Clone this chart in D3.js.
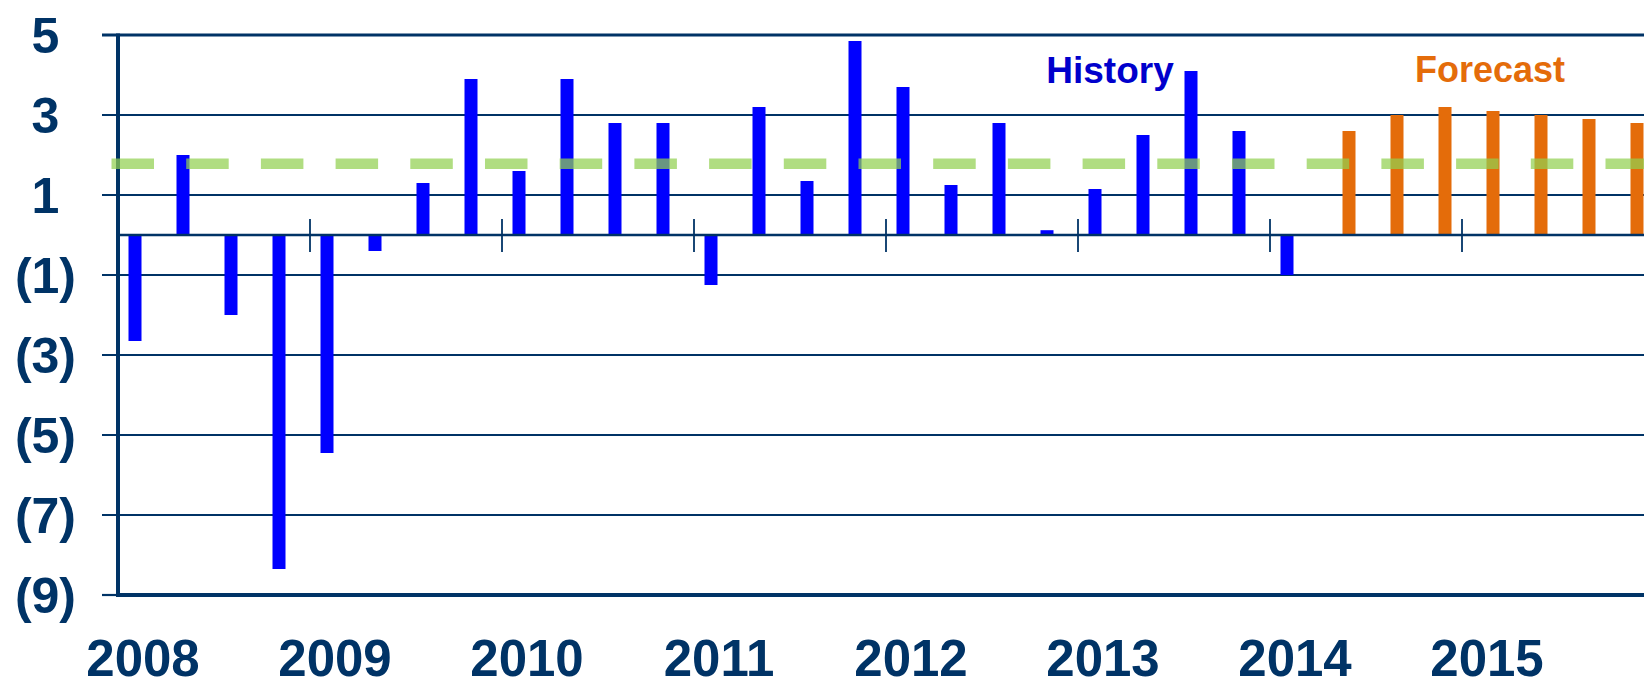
<!DOCTYPE html>
<html>
<head>
<meta charset="utf-8">
<script src="https://cdn.jsdelivr.net/npm/d3@7"></script>
<style>
  html, body { margin: 0; padding: 0; background: #fff; }
  svg { display: block; }
  text { font-family: "Liberation Sans", Arial, sans-serif; font-weight: bold; }
</style>
</head>
<body>
<svg id="chart" width="1644" height="687"></svg>
<script>
// ---- data ----
const quarters = [
  "2008Q1","2008Q2","2008Q3","2008Q4",
  "2009Q1","2009Q2","2009Q3","2009Q4",
  "2010Q1","2010Q2","2010Q3","2010Q4",
  "2011Q1","2011Q2","2011Q3","2011Q4",
  "2012Q1","2012Q2","2012Q3","2012Q4",
  "2013Q1","2013Q2","2013Q3","2013Q4",
  "2014Q1","2014Q2","2014Q3","2014Q4",
  "2015Q1","2015Q2","2015Q3","2015Q4"
];
const history = [
  -2.65, 2.0, -2.0, -8.35,
  -5.45, -0.4, 1.3, 3.9,
  1.6, 3.9, 2.8, 2.8,
  -1.25, 3.2, 1.35, 4.85,
  3.7, 1.25, 2.8, 0.12,
  1.15, 2.5, 4.1, 2.6,
  -1.0, null, null, null,
  null, null, null, null
];
const forecast = [
  null, null, null, null,
  null, null, null, null,
  null, null, null, null,
  null, null, null, null,
  null, null, null, null,
  null, null, null, null,
  null, 2.6, 3.0, 3.2,
  3.1, 3.0, 2.9, 2.8
];
const seriesNames = ["History", "Forecast"];
const trendValue = 1.78;
const yTicks = [5, 3, 1, -1, -3, -5, -7, -9];
const yearLabels = ["2008","2009","2010","2011","2012","2013","2014","2015"];

(function () {
// ---- layout ----
const W = 1644, H = 687;
const plotLeft = 118, plotTop = 35, plotBottom = 595;
const step = 48;
const navy = "#003366";
const blue = "#0000FF";
const orange = "#E46C0A";

const svg = d3.select("#chart");

const x = d3.scaleBand().domain(quarters)
  .range([plotLeft, plotLeft + step * quarters.length]).paddingInner(0).paddingOuter(0);
const xs = d3.scaleBand().domain(seriesNames)
  .range([0, x.bandwidth()]).paddingInner(1/14).paddingOuter(0.75);
const y = d3.scaleLinear().domain([-9, 5]).range([plotBottom, plotTop]);

// gridlines (plus outside tick marks)
svg.append("g").selectAll("line").data(yTicks.filter(v => v !== 5 && v !== -9)).join("line")
  .attr("x1", plotLeft - 16).attr("x2", W)
  .attr("y1", d => y(d)).attr("y2", d => y(d))
  .attr("stroke", navy).attr("stroke-width", 2.2);

// top and bottom borders
svg.append("line").attr("x1", plotLeft - 16).attr("x2", W)
  .attr("y1", y(5)).attr("y2", y(5)).attr("stroke", navy).attr("stroke-width", 3.2);
svg.append("line").attr("x1", plotLeft - 16).attr("x2", plotLeft)
  .attr("y1", y(-9)).attr("y2", y(-9)).attr("stroke", navy).attr("stroke-width", 2.2);
svg.append("line").attr("x1", plotLeft).attr("x2", W)
  .attr("y1", y(-9)).attr("y2", y(-9)).attr("stroke", navy).attr("stroke-width", 4);

// bars
const rows = quarters.map((q, i) => ({ q, History: history[i], Forecast: forecast[i] }));
const colors = { History: blue, Forecast: orange };
seriesNames.forEach(s => {
  svg.append("g").selectAll("rect")
    .data(rows.filter(r => r[s] !== null))
    .join("rect")
    .attr("x", r => x(r.q) + xs(s))
    .attr("width", xs.bandwidth())
    .attr("y", r => y(Math.max(0, r[s])))
    .attr("height", r => Math.abs(y(r[s]) - y(0)))
    .attr("fill", colors[s]);
});

// zero line (category axis)
svg.append("line").attr("x1", plotLeft).attr("x2", W)
  .attr("y1", y(0)).attr("y2", y(0)).attr("stroke", navy).attr("stroke-width", 2.5);

// year tick marks crossing zero line
const yearStarts = quarters.filter(q => q.endsWith("Q1")).slice(1);
svg.append("g").selectAll("line").data(yearStarts).join("line")
  .attr("x1", q => x(q)).attr("x2", q => x(q))
  .attr("y1", y(0) - 16).attr("y2", y(0) + 17)
  .attr("stroke", navy).attr("stroke-width", 1.8);

// left axis line
svg.append("line").attr("x1", plotLeft).attr("x2", plotLeft)
  .attr("y1", plotTop - 1.5).attr("y2", plotBottom + 2)
  .attr("stroke", navy).attr("stroke-width", 4);

// dashed reference line
svg.append("line")
  .attr("x1", 111.5).attr("x2", W)
  .attr("y1", y(trendValue)).attr("y2", y(trendValue))
  .attr("stroke", "#92D050").attr("stroke-opacity", 0.72)
  .attr("stroke-width", 10.5).attr("stroke-dasharray", "42.5,32.2");

// y labels
const yFont = 50;
svg.append("g").selectAll("text").data(yTicks).join("text")
  .attr("x", d => d < 0 ? 76 : 76 - 0.333 * yFont)
  .attr("y", d => y(d) + 0.358 * yFont)
  .attr("text-anchor", "end")
  .attr("font-size", yFont)
  .attr("fill", navy)
  .text(d => d < 0 ? `(${-d})` : d);

// x labels (years at Q1)
const xFont = 51;
const q1s = quarters.filter(q => q.endsWith("Q1"));
svg.append("g").selectAll("text").data(q1s).join("text")
  .attr("x", q => x(q) + x.bandwidth() / 2 + 1)
  .attr("y", H - 0.212 * xFont)
  .attr("text-anchor", "middle")
  .attr("font-size", xFont)
  .attr("fill", navy)
  .text((q, i) => yearLabels[i]);

// series annotations
svg.append("text").attr("x", 1110).attr("y", 82.5).attr("text-anchor", "middle")
  .attr("font-size", 37).attr("fill", "#0000CC").text("History");
svg.append("text").attr("x", 1490).attr("y", 82).attr("text-anchor", "middle")
  .attr("font-size", 36).attr("fill", orange).text("Forecast");
})();
</script>
</body>
</html>
